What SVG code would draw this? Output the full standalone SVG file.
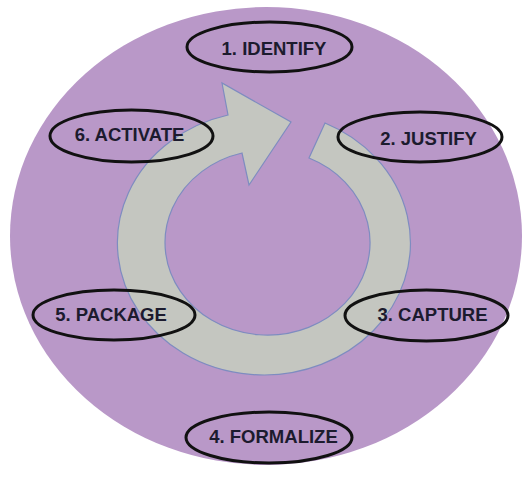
<svg xmlns="http://www.w3.org/2000/svg" width="527" height="485" viewBox="0 0 527 485">
  <style>
    .stage { fill: none; stroke: #111111; stroke-width: 3; }
    .label { font-family: "Liberation Sans", Arial, sans-serif; font-weight: bold; font-size: 18.5px; fill: #1c1b2e; text-anchor: middle; }
  </style>
  <rect width="527" height="485" fill="#ffffff"/>
  <!-- backdrop disc -->
  <ellipse cx="266" cy="236" rx="256" ry="229" fill="#b998c8"/>

  <!-- circular cycle arrow -->
  <g id="connectors">
    <path d="M 325,123 A 146.5 132 0 1 1 228,115 L 222,83 L 291,122 L 249,185 L 242,153 A 102.5 92.5 0 1 0 309,158 Z"
          fill="#c4c6c0" stroke="#7e8cc0" stroke-width="1.2" stroke-linejoin="miter"/>
  </g>

  <g id="identify">
    <ellipse class="stage" cx="269.5" cy="47" rx="82.5" ry="25"/>
    <text class="label" x="274" y="55">1. IDENTIFY</text>
  </g>
  <g id="justify">
    <ellipse class="stage" cx="420" cy="137" rx="82" ry="25"/>
    <text class="label" x="428.5" y="145">2. JUSTIFY</text>
  </g>
  <g id="capture">
    <ellipse class="stage" cx="426.5" cy="315.5" rx="81.5" ry="25.5"/>
    <text class="label" x="432.5" y="321">3. CAPTURE</text>
  </g>
  <g id="formalize">
    <ellipse class="stage" cx="269" cy="437.5" rx="83" ry="25.5"/>
    <text class="label" x="273.5" y="443">4. FORMALIZE</text>
  </g>
  <g id="package">
    <ellipse class="stage" cx="114" cy="315" rx="81" ry="25"/>
    <text class="label" x="111" y="321">5. PACKAGE</text>
  </g>
  <g id="activate">
    <ellipse class="stage" cx="131.5" cy="136" rx="81.5" ry="26"/>
    <text class="label" x="129.5" y="141">6. ACTIVATE</text>
  </g>
</svg>
